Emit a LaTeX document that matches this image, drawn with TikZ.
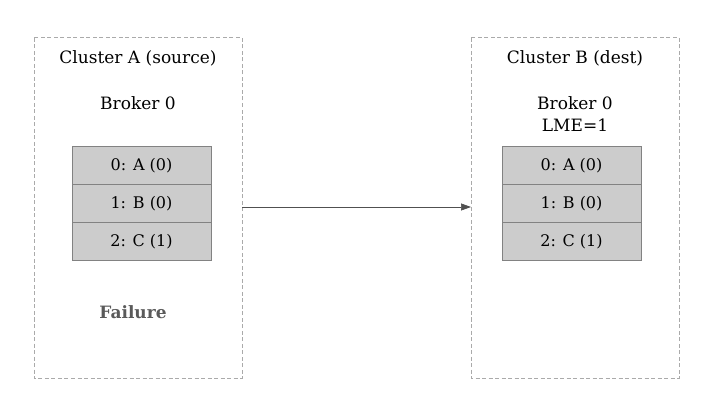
\documentclass[tikz,border=0pt]{standalone}
\usepackage{fontspec}
\setmainfont{DejaVu Serif}
\usetikzlibrary{arrows.meta}
\definecolor{dashgray}{RGB}{170,170,170}
\definecolor{cellfill}{RGB}{204,204,204}
\definecolor{cellline}{RGB}{130,130,130}
\definecolor{arrowgray}{RGB}{80,80,80}
\definecolor{failgray}{RGB}{90,90,90}
\tikzset{
  cluster/.style={draw=dashgray, dash pattern=on 4pt off 2.5pt, line width=1pt},
  cell/.style={draw=cellline, fill=cellfill, line width=1pt, minimum width=139pt, minimum height=38pt, inner sep=0pt, font=\fontsize{16}{18}\selectfont},
  lbl/.style={inner sep=0pt, font=\fontsize{17}{19}\selectfont, align=center},
  conn/.style={draw=arrowgray, line width=0.7pt, -{Triangle[length=10pt,width=7pt]}}
}
\begin{document}
\begin{tikzpicture}[x=1pt,y=-1pt]
\useasboundingbox (0,0) rectangle (713,393);
\draw[cluster] (34,38) rectangle (242,378);
\draw[cluster] (471,38) rectangle (679,378);
\coordinate (aout) at (242,207);
\coordinate (bin) at (471,207);
\node[lbl] (ta) at (138,58) {Cluster A (source)};
\node[lbl] (ba) at (138,103) {Broker 0};
\node[cell] (a0) at (141.5,166) {0: A (0)};
\node[cell] (a1) at (141.5,204) {1: B (0)};
\node[cell] (a2) at (141.5,242) {2: C (1)};
\node[lbl, text=failgray, font=\fontsize{17}{19}\selectfont\bfseries] (fail) at (133,312) {Failure};
\node[lbl] (tb) at (575,58) {Cluster B (dest)};
\node[lbl] (bb) at (575,103) {Broker 0};
\node[lbl] (lme) at (575,125) {LME=1};
\node[cell] (b0) at (571.5,166) {0: A (0)};
\node[cell] (b1) at (571.5,204) {1: B (0)};
\node[cell] (b2) at (571.5,242) {2: C (1)};
\draw[conn] (aout) -- (bin);
\end{tikzpicture}
\end{document}
